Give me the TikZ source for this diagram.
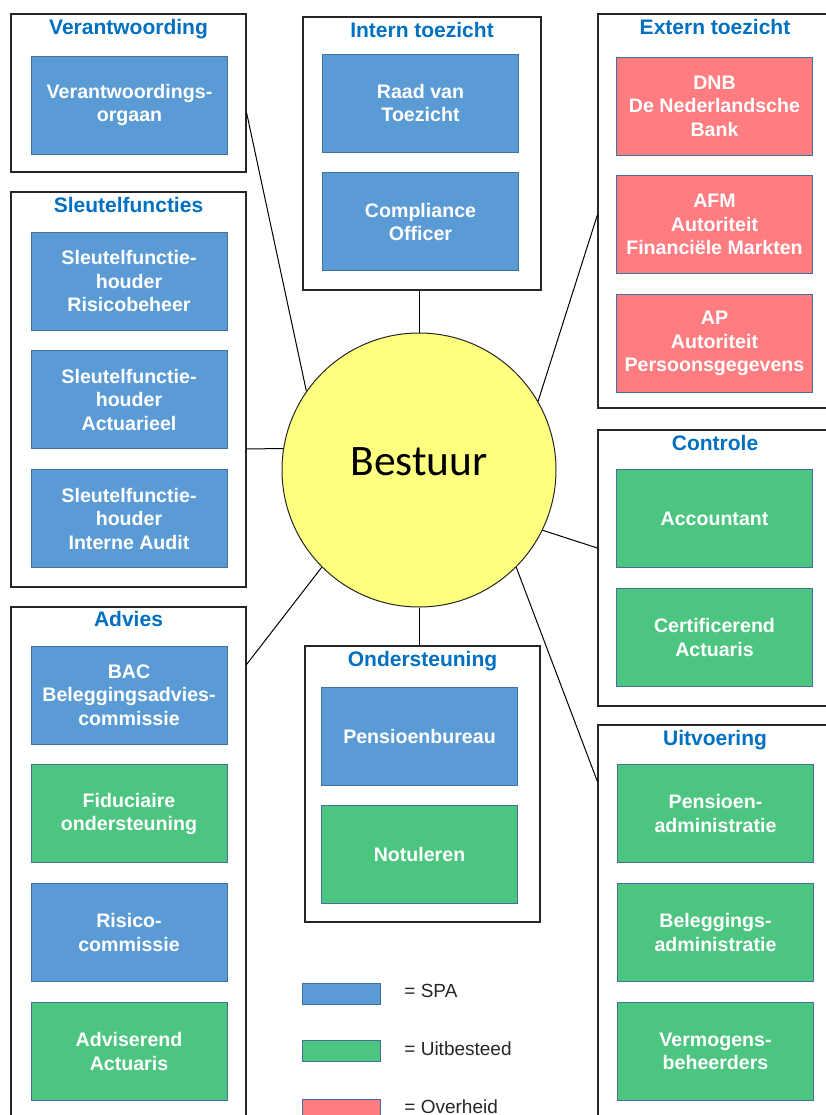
\documentclass[tikz,border=0pt]{standalone}
\usepackage{fontspec}
\setmainfont{Liberation Sans}
\newfontfamily\bestuurfont{Carlito}
\usetikzlibrary{positioning,calc}

\definecolor{spablauw}{HTML}{5B9BD5}
\definecolor{uitgroen}{HTML}{4CC580}
\definecolor{ovhrood}{HTML}{FF7C80}
\definecolor{celrand}{HTML}{41719C}
\definecolor{titelblauw}{HTML}{0070C0}
\definecolor{bestuurgeel}{HTML}{FFFF80}

\begin{document}
\begin{tikzpicture}[x=1pt, y=-1pt,
  grp/.style={draw=black!85, line width=1.3pt, fill=white},
  ttl/.style={anchor=base, text=titelblauw, font=\bfseries\fontsize{21}{24}\selectfont},
  cel/.style={draw=celrand, line width=0.8pt, minimum width=196pt, minimum height=98pt,
    align=center, text=white, inner sep=2pt, font=\bfseries\fontsize{19.6}{23.5}\selectfont},
  spa/.style={cel, fill=spablauw},
  uit/.style={cel, fill=uitgroen},
  ovh/.style={cel, fill=ovhrood},
  leg/.style={draw=celrand, line width=0.8pt, minimum width=78pt, minimum height=21pt, inner sep=0pt},
  legtxt/.style={anchor=west, text=black!85, font=\fontsize{19}{22}\selectfont},
  lijn/.style={draw=black, line width=1pt}]
  \useasboundingbox (0,0) rectangle (826,1115);
  \clip (0,0) rectangle (826,1115);

  % groepen
  \node[grp, minimum width=235pt, minimum height=158pt] (vw) at (128.5,93) {};
  \node[grp, minimum width=235pt, minimum height=395pt] (sf) at (128.5,389.5) {};
  \node[grp, minimum width=235pt, minimum height=520pt] (adv) at (128.5,867) {};
  \node[grp, minimum width=238pt, minimum height=273pt] (it) at (422,153.5) {};
  \node[grp, minimum width=235pt, minimum height=276pt] (os) at (422.5,784) {};
  \node[grp, minimum width=234pt, minimum height=394pt] (et) at (715,211) {};
  \node[grp, minimum width=234pt, minimum height=276pt] (ctl) at (715,568) {};
  \node[grp, minimum width=234pt, minimum height=420pt] (uv) at (715,935) {};

  % titels
  \node[ttl] (vwt) at ($(vw.north)+(0,21)$) {Verantwoording};
  \node[ttl] (sft) at ($(sf.north)+(0,21)$) {Sleutelfuncties};
  \node[ttl] (advt) at ($(adv.north)+(0,20)$) {Advies};
  \node[ttl] (itt) at ($(it.north)+(0,21)$) {Intern toezicht};
  \node[ttl] (ost) at ($(os.north)+(0,21)$) {Ondersteuning};
  \node[ttl] (ett) at ($(et.north)+(0,21)$) {Extern toezicht};
  \node[ttl] (ctlt) at ($(ctl.north)+(0,21)$) {Controle};
  \node[ttl] (uvt) at ($(uv.north)+(0,21)$) {Uitvoering};

  % verantwoording
  \node[spa] (vo) at (129.5,105) {Verantwoordings-\\orgaan};
  % sleutelfuncties
  \node[spa] (sfr) at (129,281) {Sleutelfunctie-\\houder\\Risicobeheer};
  \node[spa, below=20pt of sfr] (sfa) {Sleutelfunctie-\\houder\\Actuarieel};
  \node[spa, below=20pt of sfa] (sfi) {Sleutelfunctie-\\houder\\Interne Audit};
  % advies
  \node[spa] (bac) at (129,695) {BAC\\Beleggingsadvies-\\commissie};
  \node[uit, below=20pt of bac] (fid) {Fiduciaire\\ondersteuning};
  \node[spa, below=20pt of fid] (ris) {Risico-\\commissie};
  \node[uit, below=20pt of ris] (aa) {Adviserend\\Actuaris};
  % intern toezicht
  \node[spa] (rvt) at (420.5,103) {Raad van\\Toezicht};
  \node[spa, below=20pt of rvt] (co) {Compliance\\Officer};
  % ondersteuning
  \node[spa] (pb) at (419.5,736) {Pensioenbureau};
  \node[uit, below=20pt of pb] (not) {Notuleren};
  % extern toezicht
  \node[ovh] (dnb) at (714.5,106) {DNB\\De Nederlandsche\\Bank};
  \node[ovh, below=20pt of dnb] (afm) {AFM\\Autoriteit\\Financiële Markten};
  \node[ovh, below=20pt of afm] (ap) {AP\\Autoriteit\\Persoonsgegevens};
  % controle
  \node[uit] (acc) at (714.5,518.5) {Accountant};
  \node[uit, below=20pt of acc] (ca) {Certificerend\\Actuaris};
  % uitvoering
  \node[uit] (pa) at (715.5,813.5) {Pensioen-\\administratie};
  \node[uit, below=20pt of pa] (ba) {Beleggings-\\administratie};
  \node[uit, below=20pt of ba] (vb) {Vermogens-\\beheerders};

  % bestuur
  \node[circle, draw=black!85, line width=1pt, fill=bestuurgeel, minimum size=274pt,
    text depth=16pt, font=\bestuurfont\fontsize{43.5}{50}\selectfont] (bestuur) at (419,470) {Bestuur};

  % verbindingen
  \draw[lijn] ($(vw.east)+(0,20)$) -- (bestuur.145);
  \draw[lijn] ($(sf.east)+(0,59.5)$) -- (bestuur.171);
  \draw[lijn] ($(adv.north east)+(0,58)$) -- (bestuur.225);
  \draw[lijn] (bestuur.north) -- (bestuur.north |- it.south);
  \draw[lijn] (bestuur.south) -- (bestuur.south |- os.north);
  \draw[lijn] ($(et.west)+(0,4)$) -- (bestuur.30);
  \draw[lijn] ($(ctl.west)+(0,-20)$) -- (bestuur.334);
  \draw[lijn] ($(uv.north west)+(0,57)$) -- (bestuur.315);

  % legenda
  \node[leg, fill=spablauw] (lspa) at (341.5,993.5) {};
  \node[leg, fill=uitgroen, below=36pt of lspa] (luit) {};
  \node[leg, fill=ovhrood, below=37pt of luit] (lovh) {};
  \node[legtxt] (lspat) at ($(lspa.east)+(20,-3)$) {= SPA};
  \node[legtxt] (luitt) at ($(luit.east)+(20,-3)$) {= Uitbesteed};
  \node[legtxt] (lovht) at ($(lovh.east)+(20,-3)$) {= Overheid};
\end{tikzpicture}
\end{document}
